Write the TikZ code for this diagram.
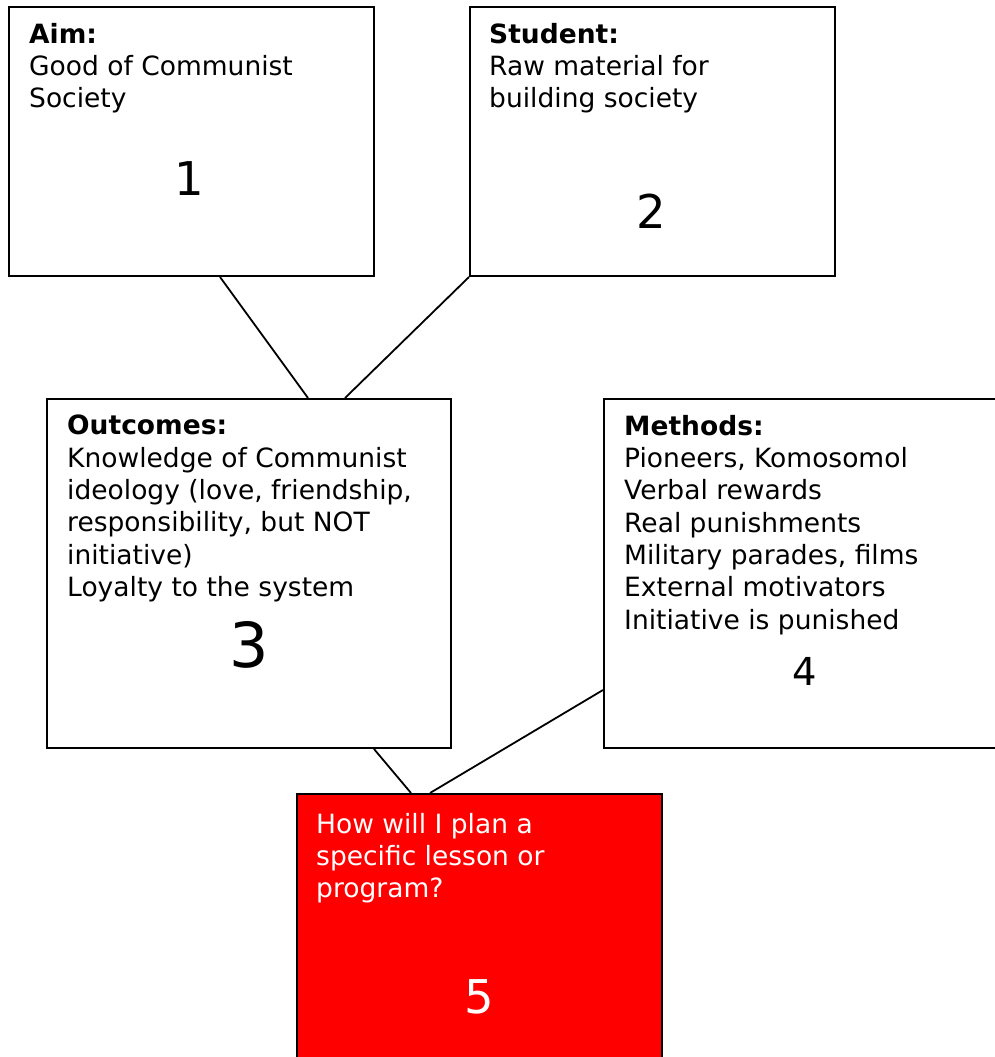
\documentclass[tikz,border=0pt]{standalone}
\usepackage{fontspec}
\setmainfont{DejaVu Sans}
\usepackage{tikz}
\usetikzlibrary{positioning}
\usepackage{xcolor}

\tikzset{
  panel/.style={draw=black, line width=2pt, fill=white, anchor=north west,
                inner sep=0pt, minimum width=365pt, minimum height=269pt},
  paneltext/.style={anchor=north west, align=left, inner sep=0pt,
                    font=\fontsize{26.5}{32.3}\selectfont},
  panelnum/.style={anchor=center, inner sep=0pt,
                   font=\fontsize{46.5}{50}\selectfont},
  link/.style={draw=black, line width=1.8pt}
}

\begin{document}
\begin{tikzpicture}[x=1pt, y=-1pt]
  \useasboundingbox (0,0) rectangle (995,1057);
  \clip (0,0) rectangle (995,1057);

  % Panels
  \node[panel] (aim) at (8,6) {};
  \node[panel] (student) at (469,6) {};
  \node[panel, minimum width=404pt, minimum height=349pt] (outcomes) at (46,398) {};
  \node[panel, minimum width=402pt, minimum height=349pt] (methods) at (603,398) {};
  \node[panel, fill=red, minimum height=300pt] (plan) at (296,793) {};

  % Texts
  \node[paneltext] (aimtxt) at ([shift={(21,17)}]aim.north west)
    {\textbf{Aim:}\\Good of Communist\\Society};
  \node[paneltext] (studenttxt) at ([shift={(20,17)}]student.north west)
    {\textbf{Student:}\\Raw material for\\building society};
  \node[paneltext] (outcomestxt) at ([shift={(21,17)}]outcomes.north west)
    {\textbf{Outcomes:}\\Knowledge of Communist\\ideology (love, friendship,\\
     responsibility, but NOT\\initiative)\\Loyalty to the system};
  \node[paneltext] (methodstxt) at ([shift={(21,17)}]methods.north west)
    {\textbf{Methods:}\\Pioneers, Komosomol\\Verbal rewards\\Real punishments\\
     Military parades, films\\External motivators\\Initiative is punished};
  \node[paneltext, text=white] (plantxt) at ([shift={(20,20)}]plan.north west)
    {How will I plan a\\specific lesson or\\program?};

  % Numbers
  \node[panelnum] (aimnum) at ([shift={(-2,173)}]aim.north) {1};
  \node[panelnum] (studentnum) at ([shift={(-1,205)}]student.north) {2};
  \node[panelnum, font=\fontsize{62}{66}\selectfont] (outcomesnum)
    at ([shift={(0,247)}]outcomes.north) {3};
  \node[panelnum, font=\fontsize{38.5}{42}\selectfont] (methodsnum)
    at ([shift={(0,273)}]methods.north) {4};
  \node[panelnum, text=white] (plannum) at ([shift={(0,204)}]plan.north) {5};

  % Connectors
  \draw[link] ([xshift=212pt]aim.south west) -- ([xshift=262pt]outcomes.north west);
  \draw[link] (student.south west) -- ([xshift=299pt]outcomes.north west);
  \draw[link] ([xshift=328pt]outcomes.south west) -- ([xshift=115pt]plan.north west);
  \draw[link] ([yshift=59pt]methods.south west) -- ([xshift=134pt]plan.north west);
\end{tikzpicture}
\end{document}
